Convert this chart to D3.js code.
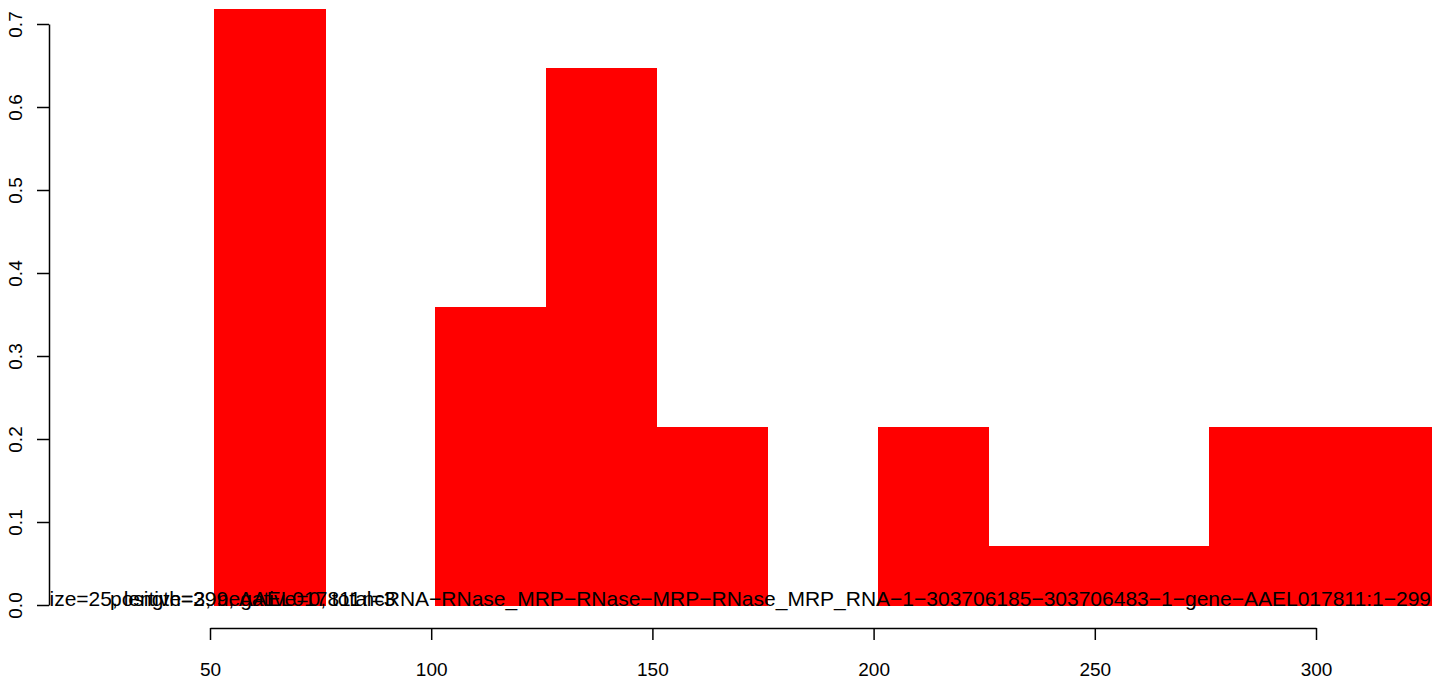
<!DOCTYPE html>
<html>
<head>
<meta charset="utf-8">
<script src="https://cdn.jsdelivr.net/npm/d3@7"></script>
<style>
  html, body { margin: 0; padding: 0; background: #fff; }
  svg { display: block; }
  text { font-family: "Liberation Sans", Arial, Helvetica, sans-serif; }
</style>
</head>
<body>
<svg id="chart" width="1444" height="681"></svg>
<script>
// ---- data ----
const binStarts = [51, 76, 101, 126, 151, 176, 201, 226, 251, 276, 301];
const binEnds   = [76, 101, 126, 151, 176, 201, 226, 251, 276, 301, 326];
const density   = [0.718, 0, 0.358, 0.646, 0.214, 0, 0.214, 0.071, 0.071, 0.214, 0.214];
const xTicks = [50, 100, 150, 200, 250, 300];
const yTicks = [0, 0.1, 0.2, 0.3, 0.4, 0.5, 0.6, 0.7];
const labelSize = "size=25, length=299, AAEL017811";
const labelStrand = "positive=3, negative=0, total=3";
const labelName = "ncRNA\u2212RNase_MRP\u2212RNase\u2212MRP\u2212RNase_MRP_RNA\u22121\u2212303706185\u2212303706483\u22121\u2212gene\u2212AAEL017811:1\u2212299";

// ---- layout ----
const svg = d3.select("#chart");
const plot = { left: 49, right: 1432, top: 0, bottom: 628 };
const x = d3.scaleLinear().domain([50, 300]).range([210, 1316]);
const y = d3.scaleLinear().domain([0, 0.7]).range([605, 24]);

svg.append("defs").append("clipPath").attr("id", "plotclip")
  .append("rect")
  .attr("x", plot.left).attr("y", plot.top)
  .attr("width", plot.right - plot.left).attr("height", plot.bottom - plot.top);

const g = svg.append("g").attr("clip-path", "url(#plotclip)");

// bars
g.selectAll("rect.bar")
  .data(density.map((d, i) => ({ x0: binStarts[i], x1: binEnds[i], v: d })))
  .join("rect")
  .attr("class", "bar")
  .attr("x", d => x(d.x0))
  .attr("width", d => x(d.x1) - x(d.x0))
  .attr("y", d => y(d.v))
  .attr("height", d => y(0) - y(d.v))
  .attr("fill", "#ff0000")
  .attr("stroke", "#ff0000")
  .attr("stroke-width", 1)
  .attr("shape-rendering", "crispEdges");

// overlapping labels at y = 0 (overlap as in the original figure)
const fsLab = 21;
g.append("text").attr("x", 39).attr("y", y(0) + 1)
  .attr("font-size", fsLab).attr("fill", "#000").text(labelSize);
g.append("text").attr("x", 110).attr("y", y(0) + 1)
  .attr("font-size", fsLab).attr("fill", "#000").text(labelStrand);
g.append("text").attr("x", 1431).attr("y", y(0) + 1)
  .attr("text-anchor", "end")
  .attr("font-size", fsLab).attr("fill", "#000").text(labelName);

// x axis
const fs = 19;
const xAxis = svg.append("g")
  .attr("transform", `translate(0,${plot.bottom})`)
  .call(d3.axisBottom(x).tickValues(xTicks).tickSize(12).tickSizeOuter(0).tickPadding(0));
xAxis.select(".domain").attr("stroke", "#000").attr("stroke-width", 1.5);
xAxis.selectAll(".tick line").attr("stroke", "#000").attr("stroke-width", 1.5);
xAxis.selectAll(".tick text")
  .attr("font-size", fs).attr("fill", "#000")
  .attr("font-family", "Liberation Sans, Arial, sans-serif")
  .attr("dy", null).attr("y", 48);

// y axis
const yAxis = svg.append("g")
  .attr("transform", `translate(${plot.left},0)`)
  .call(d3.axisLeft(y).tickValues(yTicks).tickFormat(d3.format(".1f")).tickSize(12).tickSizeOuter(0));
yAxis.select(".domain").attr("stroke", "#000").attr("stroke-width", 1.5);
yAxis.selectAll(".tick line").attr("stroke", "#000").attr("stroke-width", 1.5);
yAxis.selectAll(".tick text")
  .attr("font-size", fs).attr("fill", "#000")
  .attr("font-family", "Liberation Sans, Arial, sans-serif")
  .attr("x", null).attr("dy", null)
  .attr("text-anchor", "middle")
  .attr("transform", `translate(${22 - plot.left},0) rotate(-90)`);
</script>
</body>
</html>
